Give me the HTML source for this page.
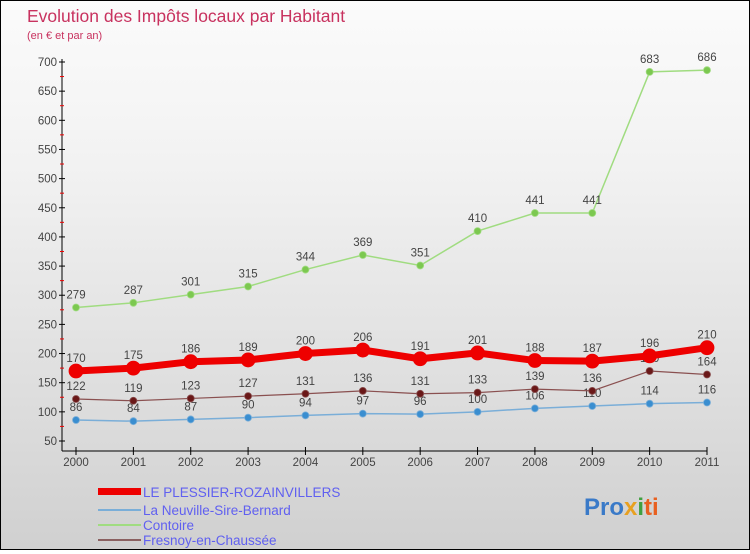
<!DOCTYPE html>
<html><head><meta charset="utf-8"><style>
body{margin:0}
#c{width:748px;height:548px;border:1px solid #000;background:linear-gradient(#fbfbfb,#f2f2f2 30%,#d0d0d0);position:relative;font-family:"Liberation Sans",sans-serif}
svg text{font-family:"Liberation Sans",sans-serif}
</style></head><body>
<div id="c">
<svg id="s" width="748" height="548">
<text x="26" y="21" font-size="17.5" fill="#c8325f">Evolution des Impôts locaux par Habitant</text>
<text x="26" y="38" font-size="11" fill="#c8325f">(en € et par an)</text>
<g id="g"></g>
<g>
<rect x="97" y="487" width="43" height="7" fill="#ee0000"/>
<text x="142" y="496" font-size="13.5" fill="#6060f0">LE PLESSIER-ROZAINVILLERS</text>
<rect x="97" y="508" width="43" height="2" fill="#7aaed8"/>
<text x="142" y="514" font-size="13.5" fill="#6060f0">La Neuville-Sire-Bernard</text>
<rect x="97" y="523" width="43" height="2" fill="#a0dc80"/>
<text x="142" y="529" font-size="13.5" fill="#6060f0">Contoire</text>
<rect x="97" y="538" width="43" height="2" fill="#8a6060"/>
<text x="142" y="544" font-size="13.5" fill="#6060f0">Fresnoy-en-Chaussée</text>
</g>
<text x="583" y="514" font-size="24" font-weight="bold"><tspan fill="#3a7ac8">Pro</tspan><tspan fill="#e8a020">x</tspan><tspan fill="#40a040">i</tspan><tspan fill="#e86020">ti</tspan></text>
</svg></div>
<script>
const years=[2000,2001,2002,2003,2004,2005,2006,2007,2008,2009,2010,2011];
const yTicks=[50,100,150,200,250,300,350,400,450,500,550,600,650,700];
const plessier=[170,175,186,189,200,206,191,201,188,187,196,210];
const neuville=[86,84,87,90,94,97,96,100,106,110,114,116];
const contoire=[279,287,301,315,344,369,351,410,441,441,683,686];
const fresnoy=[122,119,123,127,131,136,131,133,139,136,170,164];
const NS="http://www.w3.org/2000/svg",g=document.getElementById('g');
function xs(i){return 75+i*(631/11);}
function ys(v){return 440-(v-50)*(379/650);}
function mk(t,a,p){const e=document.createElementNS(NS,t);for(const k in a)e.setAttribute(k,a[k]);(p||g).appendChild(e);return e;}
let ax=mk('line',{x1:61,y1:58,x2:61,y2:450,stroke:'#000'});


let bx=mk('line',{x1:61,y1:450,x2:706,y2:450,stroke:'#000'});


yTicks.forEach((v,i)=>{const y=ys(v);
mk('line',{x1:58,y1:y,x2:64,y2:y,stroke:'#000'});
if(i<yTicks.length-1)mk('line',{x1:59,y1:y-14.6,x2:63,y2:y-14.6,stroke:'#e00'});
const t=mk('text',{x:56,y:y+4,'font-size':11.5,fill:'#444','text-anchor':'end'});t.textContent=v;

});
years.forEach((yr,i)=>{const x=xs(i);mk('line',{x1:x,y1:446,x2:x,y2:454,stroke:'#000'});
const t=mk('text',{x:x,y:465,'font-size':11.5,fill:'#444','text-anchor':'middle'});t.textContent=yr;

});
function series(d,col,w,r,dot,name){
const pl=mk('polyline',{points:d.map((v,i)=>xs(i)+','+ys(v)).join(' '),fill:'none',stroke:col,'stroke-width':w});


d.forEach((v,i)=>{const c=mk('circle',{cx:xs(i),cy:ys(v),r:r,fill:dot,stroke:col,'stroke-width':0.8});


const t=mk('text',{x:xs(i),y:ys(v)-9,'font-size':11.5,fill:'#444','text-anchor':'middle'});t.textContent=v;

});}
series(contoire,'#a0dc80',1.5,3.5,'#7cc850','contoire');
series(neuville,'#7aaed8',1.5,3.5,'#3a8ed0','neuville');
series(fresnoy,'#8a5050',1.2,3.5,'#6a1818','fresnoy');
series(plessier,'#ee0000',7,7,'#ee0000','plessier');
</script>
</body></html>
